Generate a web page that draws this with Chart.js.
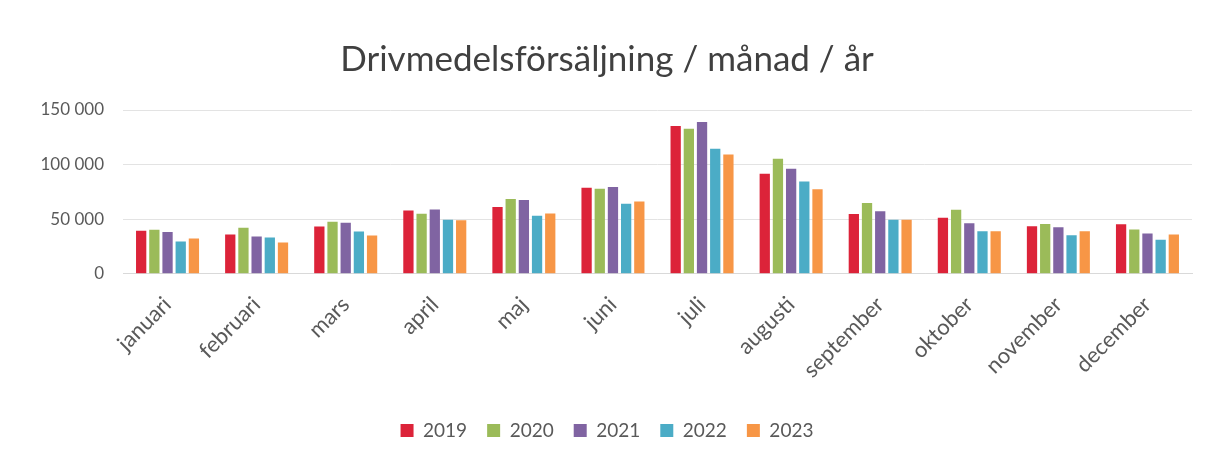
<!DOCTYPE html>
<html>
<head>
<meta charset="utf-8">
<script src="https://cdn.jsdelivr.net/npm/chart.js@4.4.0/dist/chart.umd.min.js"></script>
<style>
  html, body { margin: 0; padding: 0; background: #fff; }
  #wrap { width: 1210px; height: 461px; }
</style>
</head>
<body>
<div id="wrap"><canvas id="chart" width="1210" height="461"></canvas></div>
<script>
const months = ['januari','februari','mars','april','maj','juni','juli','augusti','september','oktober','november','december'];
const years = ['2019','2020','2021','2022','2023'];
const v2019 = [39300, 35900, 43300, 57900, 61000, 78800, 135400, 91500, 54700, 51300, 43400, 45200];
const v2020 = [40200, 42000, 47500, 54800, 68500, 77900, 132700, 105200, 64800, 58600, 45600, 40400];
const v2021 = [38100, 34100, 46600, 58800, 67500, 79400, 139100, 96100, 57100, 46100, 42500, 36800];
const v2022 = [29500, 33200, 38700, 49500, 53100, 64000, 114500, 84500, 49500, 38900, 35200, 31000];
const v2023 = [32300, 28600, 35000, 49000, 55200, 66100, 109100, 77300, 49500, 38900, 38900, 35800];
const yTicks = [0, 50000, 100000, 150000];
const colors = ['#dc2339', '#9bbb59', '#8064a2', '#4bacc6', '#f79646'];

const series = [v2019, v2020, v2021, v2022, v2023];
const textColor = '#595959';
const fontFam = 'Lato, "Open Sans", sans-serif';

const ctx = document.getElementById('chart').getContext('2d');
new Chart(ctx, {
    type: 'bar',
    data: {
        labels: months,
        datasets: years.map((y, i) => ({
            label: y,
            data: series[i],
            backgroundColor: colors[i],
            borderWidth: 0,
            categoryPercentage: 0.74,
            barPercentage: 0.78
        }))
    },
    options: {
        responsive: false,
        animation: false,
        layout: { padding: { top: 22, left: 22, right: 18, bottom: 11 } },
        scales: {
            x: {
                grid: { display: false, drawTicks: false },
                border: { display: true, color: '#d9d9d9' },
                ticks: {
                    color: textColor,
                    font: { family: fontFam, size: 22 },
                    minRotation: 45,
                    maxRotation: 45,
                    padding: 18
                },
                // rotated first label should not push the plot area
                afterFit: (axis) => { axis.paddingLeft = 0; axis.paddingRight = 0; }
            },
            y: {
                min: 0,
                max: 150000,
                afterBuildTicks: (axis) => { axis.ticks = yTicks.map(v => ({ value: v })); },
                afterFit: (axis) => { axis.width = 101; },
                grid: { color: '#e3e3e3', drawTicks: false },
                border: { display: false },
                ticks: {
                    color: textColor,
                    font: { family: fontFam, size: 17 },
                    padding: 19,
                    callback: (v) => v.toLocaleString('sv-SE').replace(/\s/g, ' ')
                }
            }
        },
        plugins: {
            title: {
                display: true,
                text: 'Drivmedelsförsäljning / månad / år',
                color: '#404040',
                font: { family: fontFam, size: 35, weight: 'normal' },
                padding: { top: 17, bottom: 29 }
            },
            legend: {
                position: 'bottom',
                labels: {
                    color: textColor,
                    font: { family: fontFam, size: 19 },
                    boxWidth: 13,
                    boxHeight: 13,
                    padding: 20
                }
            },
            tooltip: { enabled: false }
        }
    }
});
</script>
</body>
</html>
